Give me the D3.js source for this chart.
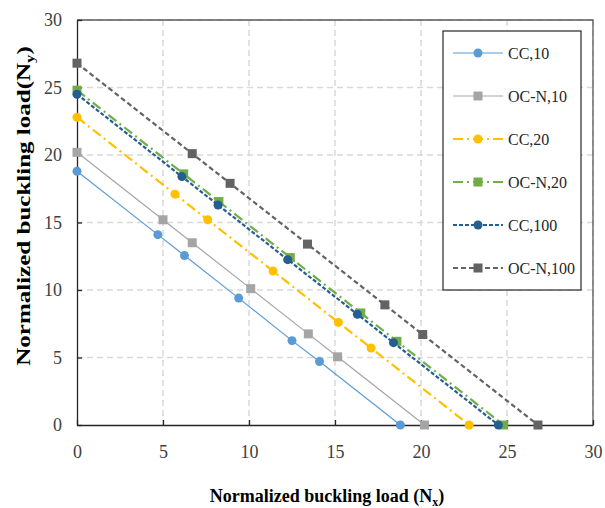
<!DOCTYPE html>
<html>
<head>
<meta charset="utf-8">
<style>
body { margin: 0; background: #fff; }
text { font-family: "Liberation Serif", "Times New Roman", serif; }
.grid line { stroke: #d9d9d9; stroke-width: 1.5px; stroke-dasharray: 6,4; }
</style>
</head>
<body>
<svg width="605" height="508"></svg>
<script src="https://cdn.jsdelivr.net/npm/d3@7"></script>
<script>

// series names and values (Nx, Ny)
var seriesNames = ["CC,10", "OC-N,10", "CC,20", "OC-N,20", "CC,100", "OC-N,100"];

var cc10   = [[0,18.8],[4.7,14.1],[6.25,12.55],[9.4,9.4],[12.5,6.25],[14.1,4.7],[18.8,0]];
var ocn10  = [[0,20.2],[5.0,15.2],[6.7,13.5],[10.1,10.1],[13.45,6.75],[15.15,5.05],[20.2,0]];
var cc20   = [[0,22.8],[5.7,17.1],[7.6,15.2],[11.4,11.4],[15.2,7.6],[17.1,5.7],[22.8,0]];
var ocn20  = [[0,24.8],[6.2,18.6],[8.25,16.55],[12.4,12.4],[16.5,8.3],[18.6,6.2],[24.8,0]];
var cc100  = [[0,24.5],[6.1,18.4],[8.2,16.3],[12.25,12.25],[16.3,8.2],[18.4,6.1],[24.5,0]];
var ocn100 = [[0,26.8],[6.7,20.1],[8.9,17.9],[13.4,13.4],[17.9,8.9],[20.1,6.7],[26.8,0]];

var xTicks = [0, 5, 10, 15, 20, 25, 30];
var yTicks = [0, 5, 10, 15, 20, 25, 30];

var styles = [
  { color: "#5B9BD5", width: 1.2, dash: null,       marker: "circle" },
  { color: "#A5A5A5", width: 1.2, dash: null,       marker: "square" },
  { color: "#FFC000", width: 2.2, dash: "10,4,2,4", marker: "circle" },
  { color: "#70AD47", width: 2.2, dash: "10,4,2,4", marker: "square" },
  { color: "#255E91", width: 2.2, dash: "4,2",      marker: "circle" },
  { color: "#636363", width: 2.2, dash: "5,3",      marker: "square" }
];

var allData = [cc10, ocn10, cc20, ocn20, cc100, ocn100];

var svg = d3.select("svg");
var pLeft = 77, pRight = 593, pTop = 20, pBottom = 425;

var x = d3.scaleLinear().domain([0, 30]).range([pLeft, pRight]);
var y = d3.scaleLinear().domain([0, 30]).range([pBottom, pTop]);

// grid
var grid = svg.append("g").attr("class", "grid");
grid.selectAll("line.v").data(xTicks.slice(1)).enter().append("line")
    .attr("x1", function(d) { return x(d); }).attr("x2", function(d) { return x(d); })
    .attr("y1", pTop).attr("y2", pBottom);
grid.selectAll("line.h").data(yTicks.slice(1)).enter().append("line")
    .attr("x1", pLeft).attr("x2", pRight)
    .attr("y1", function(d) { return y(d); }).attr("y2", function(d) { return y(d); });

// frame (top/right)
svg.append("path")
    .attr("d", "M" + pLeft + "," + pTop + "H" + pRight + "V" + pBottom)
    .attr("fill", "none").attr("stroke", "#595959").attr("stroke-width", 1.3);

// axes
var xAxis = svg.append("g").attr("transform", "translate(0," + pBottom + ")")
    .call(d3.axisBottom(x).tickValues(xTicks).tickSizeInner(-5).tickSizeOuter(0).tickPadding(20));
var yAxis = svg.append("g").attr("transform", "translate(" + pLeft + ",0)")
    .call(d3.axisLeft(y).tickValues(yTicks).tickSizeInner(-5).tickSizeOuter(0).tickPadding(15));

[xAxis, yAxis].forEach(function(a) {
  a.select(".domain").attr("stroke", "#262626").attr("stroke-width", 1.3);
  a.selectAll(".tick line").attr("stroke", "#262626").attr("stroke-width", 1.3);
  a.selectAll("text").style("font-family", "Liberation Serif").style("font-size", "18px").attr("fill", "#404040");
});

// series
var line = d3.line().x(function(d) { return x(d[0]); }).y(function(d) { return y(d[1]); });

allData.forEach(function(data, i) {
  var s = styles[i];
  svg.append("path")
      .datum(data)
      .attr("d", line)
      .attr("fill", "none")
      .attr("stroke", s.color)
      .attr("stroke-width", s.width)
      .attr("stroke-dasharray", s.dash);
  drawMarkers(svg, data.map(function(d) { return [x(d[0]), y(d[1])]; }), s);
});

function drawMarkers(g, pts, s) {
  if (s.marker == "circle") {
    g.selectAll(null).data(pts).enter().append("circle")
        .attr("cx", function(d) { return d[0]; })
        .attr("cy", function(d) { return d[1]; })
        .attr("r", 4.5)
        .attr("fill", s.color);
  } else {
    g.selectAll(null).data(pts).enter().append("rect")
        .attr("x", function(d) { return d[0] - 4.5; })
        .attr("y", function(d) { return d[1] - 4.5; })
        .attr("width", 9).attr("height", 9)
        .attr("fill", s.color);
  }
}

// legend
var lg = svg.append("g");
lg.append("rect")
    .attr("x", 443).attr("y", 31).attr("width", 138).attr("height", 259)
    .attr("fill", "#fff").attr("stroke", "#262626").attr("stroke-width", 1.2);

seriesNames.forEach(function(name, i) {
  var s = styles[i];
  var cy = 53 + i * 43;
  lg.append("line")
      .attr("x1", 453).attr("x2", 503).attr("y1", cy).attr("y2", cy)
      .attr("stroke", s.color).attr("stroke-width", s.width)
      .attr("stroke-dasharray", s.dash);
  drawMarkers(lg, [[478, cy]], s);
  lg.append("text")
      .attr("x", 508).attr("y", cy).attr("dy", "0.35em")
      .style("font-size", "16px").attr("fill", "#262626")
      .text(name);
});

// axis titles
var xt = svg.append("text")
    .attr("x", 327).attr("y", 502).attr("text-anchor", "middle")
    .style("font-size", "18px").style("font-weight", "bold");
xt.append("tspan").text("Normalized buckling load (N");
xt.append("tspan").attr("dy", 4).style("font-size", "12px").text("x");
xt.append("tspan").attr("dy", -4).text(")");

// the y title in the source is stretched along its length
var yt = svg.append("text")
    .attr("transform", "translate(30,206) rotate(-90) scale(1.39,1)").attr("text-anchor", "middle")
    .style("font-size", "18px").style("font-weight", "bold");
yt.append("tspan").text("Normalized buckling load(N");
yt.append("tspan").attr("dy", 4).style("font-size", "12px").text("y");
yt.append("tspan").attr("dy", -4).text(")");

</script>
</body>
</html>
